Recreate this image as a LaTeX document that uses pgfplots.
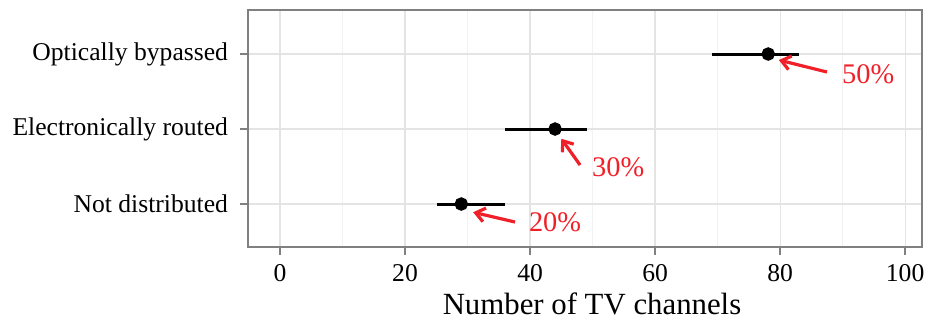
\documentclass[border=0pt]{standalone}
\usepackage{pgfplots}
\pgfplotsset{compat=1.18}
\usepackage{fontspec}
\setmainfont{Liberation Serif}
\usetikzlibrary{arrows.meta}
\definecolor{annred}{RGB}{240,32,40}
\definecolor{gridmaj}{RGB}{228,228,228}
\definecolor{gridmin}{RGB}{242,242,242}

\begin{document}
\begin{tikzpicture}
\begin{axis}[
  scale only axis,
  width=337pt, height=118.5pt,
  xmin=-5.12, xmax=102.7,
  ymin=0.427, ymax=3.587,
  xtick={0,20,40,60,80,100},
  minor xtick={10,30,50,70,90},
  ytick={1,2,3},
  yticklabels={Not distributed,Electronically routed,Optically bypassed},
  grid=both,
  major grid style={gridmaj, line width=0.6pt},
  minor grid style={gridmin, line width=0.5pt},
  axis line style={black!50, line width=0.8pt},
  tick style={black!50, line width=0.8pt},
  tick align=outside,
  major tick length=4pt,
  minor tick length=0pt,
  xtick pos=bottom, ytick pos=left,
  /pgf/number format/assume math mode=true,
  tick label style={font=\fontsize{12.8pt}{14pt}\selectfont, black},
  xticklabel style={yshift=-1pt},
  yticklabel style={xshift=-2.5pt},
  xlabel={Number of TV channels},
  xlabel style={font=\fontsize{15.4pt}{17pt}\selectfont, yshift=1pt, xshift=3.5pt},
]
\addplot[black, line width=1.5pt, mark=*, mark size=2.6pt, only marks,
  error bars/.cd, x dir=both, x explicit, error mark=none,
  error bar style={line width=1.5pt, black}]
  table[x=x, y=y, x error plus=ep, x error minus=em] {
  x    y  ep   em
  29.0 1  7.0  3.9
  44.0 2  5.1  8.0
  78.1 3  4.9  9.0
};
\draw[annred, line width=1.6pt, -{Straight Barb[length=4.5pt, width=7pt]}]
  (axis cs:87.5,2.76) -- (axis cs:79.8,2.92);
\draw[annred, line width=1.6pt, -{Straight Barb[length=4.5pt, width=7pt]}]
  (axis cs:48.0,1.52) -- (axis cs:45.0,1.87);
\draw[annred, line width=1.6pt, -{Straight Barb[length=4.5pt, width=7pt]}]
  (axis cs:37.6,0.76) -- (axis cs:30.9,0.89);
\node[annred, font=\fontsize{14.2pt}{16pt}\selectfont] at (axis cs:94.1,2.73) {50\%};
\node[annred, font=\fontsize{14.2pt}{16pt}\selectfont] at (axis cs:54.1,1.49) {30\%};
\node[annred, font=\fontsize{14.2pt}{16pt}\selectfont] at (axis cs:44.0,0.76) {20\%};
\end{axis}
\pgfresetboundingbox
\path ([shift={(-124pt,-36.5pt)}]current axis.south west) rectangle ([shift={(3.5pt,5pt)}]current axis.north east);
\end{tikzpicture}
\end{document}
